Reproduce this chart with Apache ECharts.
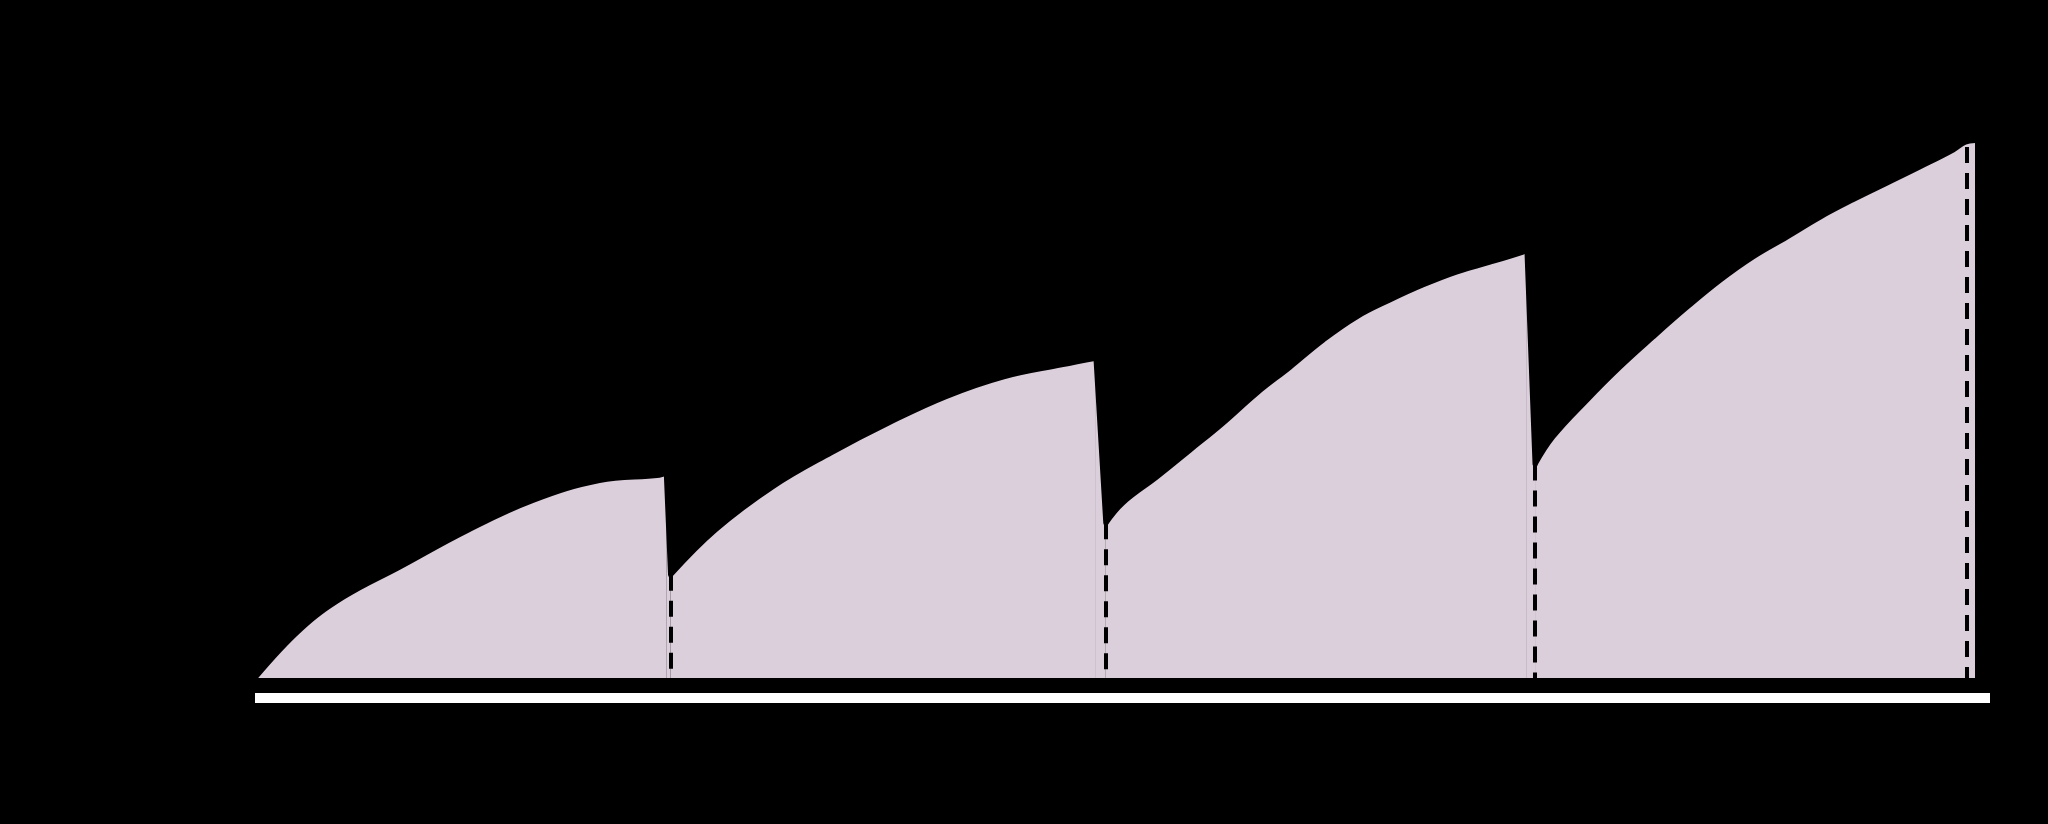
<!DOCTYPE html>
<html>
<head>
<meta charset="utf-8">
<script src="https://cdn.jsdelivr.net/npm/echarts@6/dist/echarts.min.js"></script>
<style>
html,body{margin:0;padding:0;background:#000;}
#chart{width:2048px;height:824px;}
</style>
</head>
<body>
<div id="chart"></div>
<script>
// time (x) and level (y), one array per dosing interval
const seg1X = [0, 1.06, 2.07, 3.38, 4.96, 6.49, 8.04, 9.44, 9.6];
const seg1Y = [0, 8.1, 13.5, 18.5, 24.6, 29.6, 32.9, 33.8, 34.2];
const seg2X = [9.7, 10.75, 12.09, 13.44, 14.79, 16.13, 17.48, 18.83, 19.63];
const seg2Y = [17.2, 24.7, 31.9, 37.5, 42.5, 46.9, 50.2, 52.2, 53.3];
const seg3X = [19.86, 20.26, 21.05, 21.83, 22.60, 23.39, 24.16, 24.93, 25.72, 26.49, 27.26, 28.06, 28.83, 29.60, 29.69];
const seg3Y = [25.8, 29.2, 33.5, 38.0, 42.5, 47.5, 51.8, 56.3, 60.2, 63.0, 65.5, 67.7, 69.3, 71.0, 71.3];
const seg4X = [29.88, 30.30, 31.09, 31.86, 32.63, 33.43, 34.20, 34.97, 35.76, 36.53, 37.30, 38.10, 38.87, 39.64, 39.92, 40.15];
const seg4Y = [35.6, 40.2, 46.3, 51.8, 56.8, 61.8, 66.3, 70.2, 73.5, 76.8, 79.7, 82.5, 85.2, 88.0, 89.3, 89.6];
// dose times (dashed guides) and the level where each guide starts
const doseX = [9.7, 19.86, 29.88, 39.95];
const doseY = [17.2, 25.8, 35.6, 88.5];

const segsX = [seg1X, seg2X, seg3X, seg4X];
const segsY = [seg1Y, seg2Y, seg3Y, seg4Y];

const lineStyle = {color: '#000', width: 5, cap: 'round', join: 'round'};
const areaStyle = {color: '#dccfdc', opacity: 1};

const series = segsX.map((xs, i) => ({
  type: 'line',
  data: xs.map((x, j) => [x, segsY[i][j]]),
  showSymbol: false,
  smooth: 0.4,
  lineStyle: lineStyle,
  areaStyle: areaStyle,
  z: 2
}));

// drops: from the end of one interval to the start of the next
const drops = [];
for (let i = 0; i < segsX.length - 1; i++) {
  const a = segsX[i].length - 1;
  drops.push([segsX[i][a], segsY[i][a]]);
  drops.push([segsX[i + 1][0], segsY[i + 1][0]]);
  drops.push(null);
}
series.push({
  type: 'line',
  data: drops,
  showSymbol: false,
  connectNulls: false,
  lineStyle: lineStyle,
  areaStyle: areaStyle,
  z: 3,
  markLine: {
    silent: true,
    symbol: ['none', 'none'],
    label: {show: false},
    lineStyle: {color: '#000', width: 4, type: [16, 10]},
    data: doseX.map((x, i) => [{coord: [x, doseY[i]]}, {coord: [x, 0]}])
  }
});

const chart = echarts.init(document.getElementById('chart'), null, {renderer: 'canvas'});
chart.setOption({
  backgroundColor: '#000',
  animation: false,
  grid: {left: 255, right: 58, top: 78, bottom: 146},
  xAxis: [{
    type: 'value', min: 0, max: 40.5,
    axisLine: {lineStyle: {color: '#000', width: 4}},
    axisTick: {show: false}, axisLabel: {show: false}, splitLine: {show: false}
  }, {
    type: 'value', min: 0, max: 40.5, position: 'bottom', offset: 20,
    axisLine: {lineStyle: {color: '#fff', width: 10, cap: 'butt'}},
    axisTick: {show: false}, axisLabel: {show: false}, splitLine: {show: false}
  }],
  yAxis: {
    type: 'value', min: 0, max: 100,
    axisLine: {show: true, lineStyle: {color: '#000', width: 4}},
    axisTick: {show: false}, axisLabel: {show: false}, splitLine: {show: false}
  },
  series: series
});
</script>
</body>
</html>
